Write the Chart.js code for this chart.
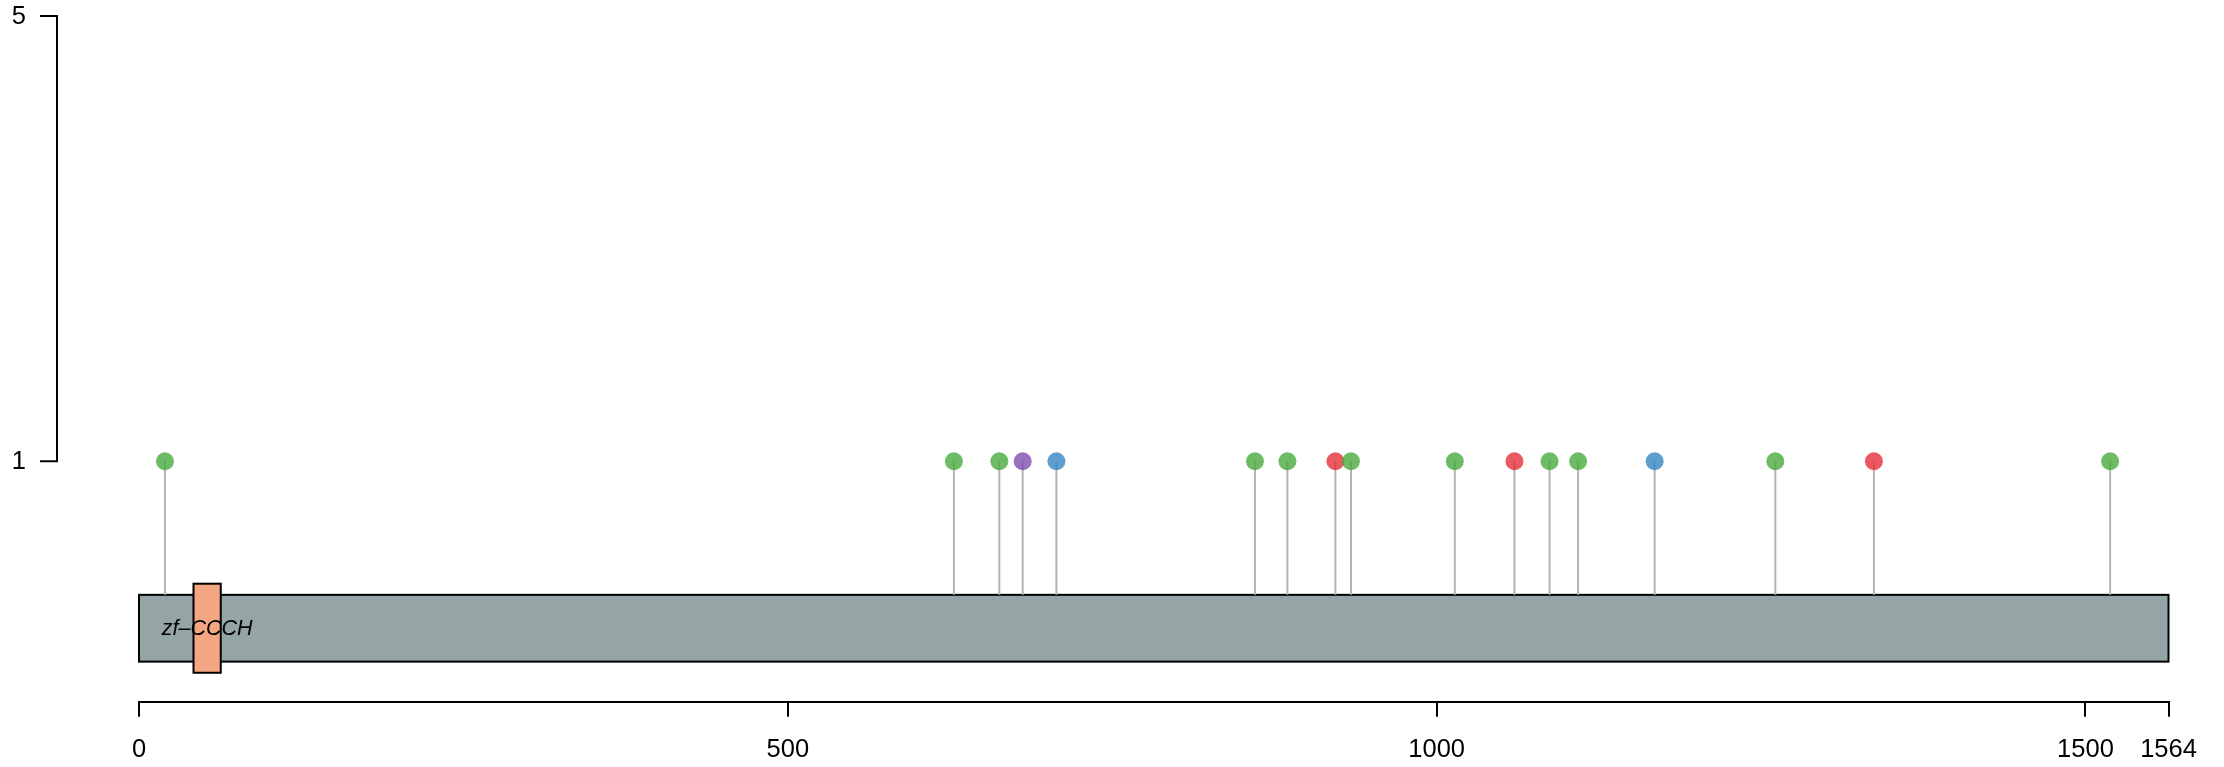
<!DOCTYPE html>
<html>
<head>
<meta charset="utf-8">
<script src="https://cdn.jsdelivr.net/npm/chart.js@4/dist/chart.umd.min.js"></script>
<style>
html, body { margin: 0; padding: 0; background: #fff; }
canvas { display: block; }
</style>
</head>
<body>
<canvas id="c" width="2224" height="767"></canvas>
<script>
// protein backbone + domains (aa coordinates)
const PROTEIN_LEN = 1564;
const domainNames = ['zf–CCCH'];
const domainStart = [42];
const domainEnd = [63];

// variant sites: position, height, colour group
const sitePos = [20, 628, 663, 681, 707, 860, 885, 922, 934, 1014, 1060, 1087, 1109, 1168, 1261, 1337, 1519];
const siteScore = [1, 1, 1, 1, 1, 1, 1, 1, 1, 1, 1, 1, 1, 1, 1, 1, 1];
const siteGroup = ['g', 'g', 'g', 'p', 'b', 'g', 'g', 'r', 'g', 'g', 'r', 'g', 'g', 'b', 'g', 'r', 'g'];

const xTicks = [0, 500, 1000, 1500, 1564];
const yTicks = [1, 5];

const FONT = "'Liberation Sans', Arial, Helvetica, sans-serif";
const PALETTE = { g: 'rgba(73,171,63,0.8)', r: 'rgba(229,48,56,0.8)', b: 'rgba(52,134,194,0.8)', p: 'rgba(126,76,174,0.8)' };
const BAR_FILL = '#95A5A6', DOMAIN_FILL = '#F4A582', STEM = '#B4B4B4';
// track geometry, in y-scale units
const BAR_Y = [-0.2, -0.8], DOMAIN_Y = [-0.1, -0.9];

// stems: one segment per site, broken by null points
const stemData = [];
sitePos.forEach((p, i) => { stemData.push({ x: p, y: BAR_Y[0] }, { x: p, y: siteScore[i] }, { x: p, y: null }); });

const track = {
  id: 'track',
  beforeDatasetsDraw(chart) {
    const { ctx, scales: { x, y } } = chart;
    ctx.save();
    ctx.lineWidth = 2; ctx.strokeStyle = '#000';
    const bx0 = x.getPixelForValue(0), bx1 = x.getPixelForValue(PROTEIN_LEN);
    const by0 = y.getPixelForValue(BAR_Y[0]), by1 = y.getPixelForValue(BAR_Y[1]);
    ctx.fillStyle = BAR_FILL;
    ctx.fillRect(bx0, by0, bx1 - bx0, by1 - by0);
    ctx.strokeRect(bx0, by0, bx1 - bx0, by1 - by0);
    const dy0 = y.getPixelForValue(DOMAIN_Y[0]), dy1 = y.getPixelForValue(DOMAIN_Y[1]);
    domainNames.forEach((name, i) => {
      const dx0 = x.getPixelForValue(domainStart[i]), dx1 = x.getPixelForValue(domainEnd[i]);
      ctx.fillStyle = DOMAIN_FILL;
      ctx.fillRect(dx0, dy0, dx1 - dx0, dy1 - dy0);
      ctx.strokeRect(dx0, dy0, dx1 - dx0, dy1 - dy0);
    });
    ctx.fillStyle = '#000';
    ctx.font = 'italic 21.5px ' + FONT;
    ctx.textAlign = 'center'; ctx.textBaseline = 'middle';
    domainNames.forEach((name, i) => {
      const cx = x.getPixelForValue((domainStart[i] + domainEnd[i]) / 2);
      ctx.fillText(name, cx, (by0 + by1) / 2 + 1);
    });
    ctx.restore();
  },
  afterDraw(chart) {
    // R-style y axis: bracket from first to last tick, left of the plot
    const { ctx, chartArea, scales: { y } } = chart;
    const ax = chartArea.left - 82;
    ctx.save();
    ctx.strokeStyle = '#000'; ctx.lineWidth = 2;
    ctx.beginPath();
    ctx.moveTo(ax, y.getPixelForValue(yTicks[0]));
    ctx.lineTo(ax, y.getPixelForValue(yTicks[yTicks.length - 1]));
    yTicks.forEach((t) => { const py = y.getPixelForValue(t); ctx.moveTo(ax - 17, py); ctx.lineTo(ax + 1, py); });
    ctx.stroke();
    ctx.fillStyle = '#000'; ctx.font = '25.5px ' + FONT;
    ctx.textAlign = 'right'; ctx.textBaseline = 'middle';
    yTicks.forEach((t) => ctx.fillText(String(t), ax - 31, y.getPixelForValue(t) + 1));
    ctx.restore();
  }
};

new Chart(document.getElementById('c'), {
  type: 'scatter',
  data: {
    datasets: [
      {
        data: sitePos.map((p, i) => ({ x: p, y: siteScore[i] })),
        pointRadius: 9, pointHoverRadius: 9, pointBorderWidth: 0,
        pointBackgroundColor: siteGroup.map((g) => PALETTE[g]),
        order: 0, clip: false
      },
      {
        data: stemData, showLine: true, spanGaps: false,
        borderColor: STEM, borderWidth: 2, pointRadius: 0, pointHoverRadius: 0,
        order: 1
      }
    ]
  },
  options: {
    responsive: false, animation: false, devicePixelRatio: 1,
    layout: { padding: { left: 139, right: 55.5, top: 16, bottom: 0 } },
    plugins: { legend: { display: false }, tooltip: { enabled: false } },
    events: [],
    scales: {
      x: {
        type: 'linear', min: 0, max: PROTEIN_LEN,
        afterBuildTicks: (s) => { s.ticks = xTicks.map((v) => ({ value: v })); },
        afterFit: (s) => { s.height = 65.3; },
        grid: { drawOnChartArea: false, drawTicks: true, tickLength: 15, color: '#000', lineWidth: 2 },
        border: { display: true, color: '#000', width: 2 },
        ticks: { autoSkip: false, maxRotation: 0, padding: 18, color: '#000', font: { family: FONT, size: 25.5 }, callback: (v) => String(v) }
      },
      y: { type: 'linear', display: false, min: -1.16, max: 5 }
    }
  },
  plugins: [track]
});
</script>
</body>
</html>
